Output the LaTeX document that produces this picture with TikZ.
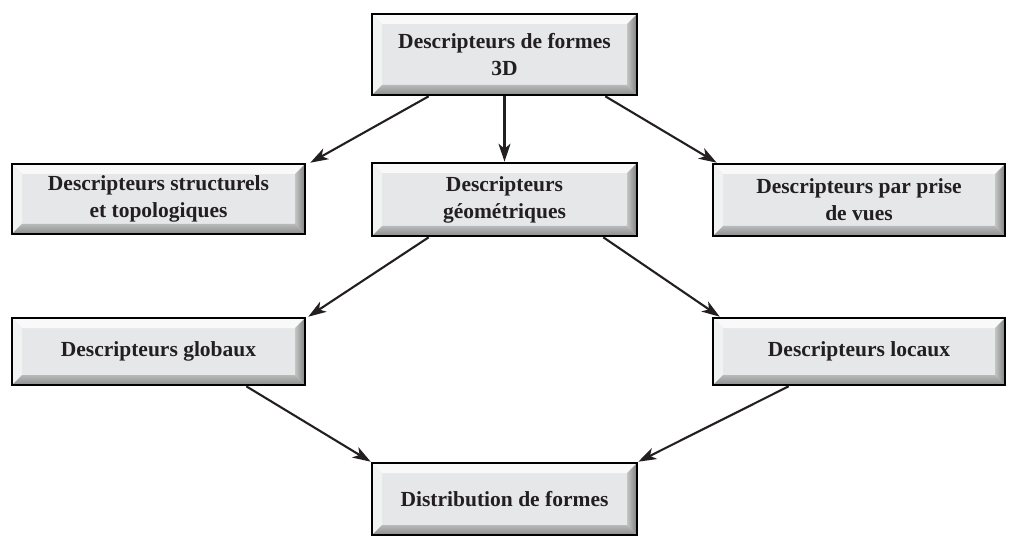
\documentclass[tikz,border=0pt]{standalone}
\usepackage{fontspec}
\setmainfont{Liberation Serif}
\usepackage{xcolor}
\usepackage{tikz}
\usetikzlibrary{calc}
\usetikzlibrary{arrows.meta}
\usetikzlibrary{positioning}
\definecolor{facegray}{HTML}{E6E7E8}
\definecolor{inkgray}{HTML}{231F20}
\tikzset{>={Stealth[length=18pt,width=12pt,inset=5pt]}}
\tikzstyle{bevel} = [rectangle, draw=black, line width=2.6pt, fill=facegray,
  align=center, text=inkgray, font=\bfseries\fontsize{21.5}{27}\selectfont,
  path picture={
    \path (path picture bounding box.south west) coordinate (bsw)
          (path picture bounding box.north east) coordinate (bne)
          (path picture bounding box.north west) coordinate (bnw)
          (path picture bounding box.south east) coordinate (bse);
    \fill[white!75!facegray] (bnw) -- (bne) -- ([shift={(-10pt,-10pt)}]bne) -- ([shift={(10pt,-10pt)}]bnw) -- cycle;
    \fill[white!45!facegray] (bnw) -- ([shift={(10pt,-10pt)}]bnw) -- ([shift={(10pt,10pt)}]bsw) -- (bsw) -- cycle;
    \shade[left color=facegray!85!black, right color=black!50] (bne) -- (bse) -- ([shift={(-10pt,10pt)}]bse) -- ([shift={(-10pt,-10pt)}]bne) -- cycle;
    \shade[top color=facegray!80!black, bottom color=black!45] (bsw) -- ([shift={(10pt,10pt)}]bsw) -- ([shift={(-10pt,10pt)}]bse) -- (bse) -- cycle;
  }]
\tikzstyle{link} = [->, line width=2.1pt, draw=inkgray]

\begin{document}
\begin{tikzpicture}[x=1pt, y=-1pt]
\useasboundingbox (0,0) rectangle (1018,540);
% niveaux
\node [bevel, minimum width=265pt, minimum height=81pt] (forms3d) at (504.5, 54.5) {Descripteurs de formes\\3D};
\node [bevel, minimum width=293pt, minimum height=70pt] (struct) at (158.5, 199) {Descripteurs structurels\\et topologiques};
\node [bevel, minimum width=265pt, minimum height=73pt] (geom) at (504.5, 199.5) {Descripteurs\\géométriques};
\node [bevel, minimum width=292pt, minimum height=72pt] (vues) at (859, 200) {Descripteurs par prise\\de vues};
\node [bevel, minimum width=293pt, minimum height=67pt] (glob) at (158.5, 351.5) {Descripteurs globaux};
\node [bevel, minimum width=292pt, minimum height=67pt] (loc) at (859, 351.5) {Descripteurs locaux};
\node [bevel, minimum width=265pt, minimum height=72pt] (distrib) at (504.5, 499) {Distribution de formes};
% fleches
\draw [link] ([xshift=58pt]forms3d.south west) to ([xshift=4pt]struct.north east);
\draw [link] (forms3d.south) to (geom.north);
\draw [link] ([xshift=-33pt]forms3d.south east) to ([xshift=5pt]vues.north west);
\draw [link] ([xshift=58pt]geom.south west) to ([xshift=2pt]glob.north east);
\draw [link] ([xshift=-35pt]geom.south east) to ([xshift=8pt]loc.north west);
\draw [link] ([xshift=-60pt]glob.south east) to (distrib.north west);
\draw [link] ([xshift=77pt]loc.south west) to (distrib.north east);
\end{tikzpicture}
\end{document}
